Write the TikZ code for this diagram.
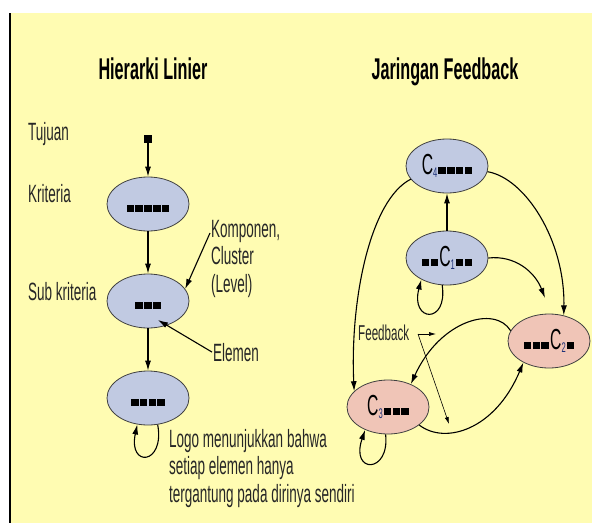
\documentclass[tikz,border=0pt]{standalone}
\usepackage{fontspec}
\setmainfont{Liberation Sans}[FakeStretch=0.54]
\usetikzlibrary{arrows.meta, calc, shapes.geometric}

\definecolor{paper}{RGB}{255,252,178}
\definecolor{nodeblue}{RGB}{193,202,226}
\definecolor{nodepink}{RGB}{240,197,183}
\definecolor{subblue}{RGB}{30,50,120}

\newcommand{\sq}{\rule{7.5pt}{7.5pt}\hspace{1.3pt}}
\newcommand{\cl}[1]{{\fontsize{29}{29}\selectfont C}\raisebox{-3pt}{\fontsize{14}{14}\selectfont\color{subblue}#1}\hspace{1pt}}

\begin{document}
\begin{tikzpicture}[x=1pt, y=-1pt, >={Latex[length=10pt,width=6pt]},
  elem/.style={ellipse, draw=black!75, line width=0.8pt, fill=nodeblue,
    minimum width=82pt, minimum height=54pt, inner sep=0pt,
    text height=16pt, text depth=0pt},
  fbnode/.style={elem, fill=nodepink},
  lbl/.style={font=\fontsize{25}{27.5}\selectfont, text=black!85, inner sep=0pt},
  ttl/.style={font=\bfseries\fontsize{30}{30}\selectfont, inner sep=0pt},
  link/.style={->, line width=1.1pt},
  hint/.style={-{Latex[length=7pt,width=4pt]}, line width=0.6pt}]
  \useasboundingbox (0,0) rectangle (592,523);
  \fill[paper] (10,13) rectangle (592,523);
  \draw[line width=1.2pt] (10,13) -- (10,523);

  \node[ttl, anchor=base] (tlin) at (153,79) {Hierarki Linier};
  \node[ttl, anchor=base] (tnet) at (445,79) {Jaringan Feedback};

  % hierarki linier
  \node[fill=black, inner sep=0pt, minimum size=8pt] (goal) at (148,139) {};
  \node[elem] (krit) at (148,204) {\sq\sq\sq\sq\sq};
  \node[elem] (subk) at (148,301) {\sq\sq\sq};
  \node[elem] (alt) at (148,398) {\sq\sq\sq\sq};
  \draw[link] (goal) -- (krit);
  \draw[link] (krit) -- (subk);
  \draw[link] (subk) -- (alt);
  \draw[link] (alt.-70) .. controls (165,465) and (128,468) .. (alt.-112);

  \node[lbl, anchor=base west] (ltuj) at (28,140) {Tujuan};
  \node[lbl, anchor=base west] (lkrit) at (28,202) {Kriteria};
  \node[lbl, anchor=base west] (lsub) at (28,300) {Sub kriteria};
  \node[lbl, anchor=base west, align=left] (komp) at (211,292) {Komponen,\\Cluster\\(Level)};
  \node[lbl, anchor=base west] (elm) at (213,361) {Elemen};
  \node[lbl, anchor=base west, align=left] (logo) at (169,502)
    {Logo menunjukkan bahwa\\setiap elemen hanya\\tergantung pada dirinya sendiri};
  \coordinate (kompA) at (210,233);
  \draw[link] (kompA) -- (subk.18);
  \draw[link] ($(elm.west)+(-1,0)$) -- ($(subk.center)+(10,19)$);

  % jaringan feedback
  \node[elem] (c4) at (447,166) {\cl{4}\sq\sq\sq\sq};
  \node[elem] (c1) at (447,258) {\sq\sq\cl{1}\sq\sq};
  \node[fbnode] (c2) at (549,341) {\sq\sq\sq\cl{2}\sq};
  \node[fbnode] (c3) at (388,407) {\cl{3}\sq\sq\sq};
  \coordinate (c2in) at (545,298);
  \draw[link] (c1) -- (c4);
  \draw[link] (c1.-100) .. controls (448,325) and (410,322) .. (c1.-140);
  \draw[link] (c1.east) .. controls (515,255) and (535,272) .. (c2in);
  \draw[link] (c4.-8) .. controls (525,178) and (565,240) .. (c2.60);
  \draw[link] (c4.200) .. controls (370,200) and (350,300) .. (c3.155);
  \draw[link] (c2.165) .. controls (495,305) and (440,320) .. (c3.45);
  \draw[link] (c3.-30) .. controls (445,445) and (495,430) .. (c2.220);
  \draw[link] (c3.-95) .. controls (390,474) and (350,474) .. (c3.-135);

  \node[lbl, anchor=base west, font=\fontsize{21.5}{21.5}\selectfont] (fbk) at (358,340) {Feedback};
  \coordinate (fbo) at (418,334);
  \coordinate (fbh) at (436,334);
  \coordinate (fbd) at (449,424);
  \draw[hint] (fbo) -- (fbh);
  \draw[hint] (fbo) -- (fbd);
\end{tikzpicture}
\end{document}
